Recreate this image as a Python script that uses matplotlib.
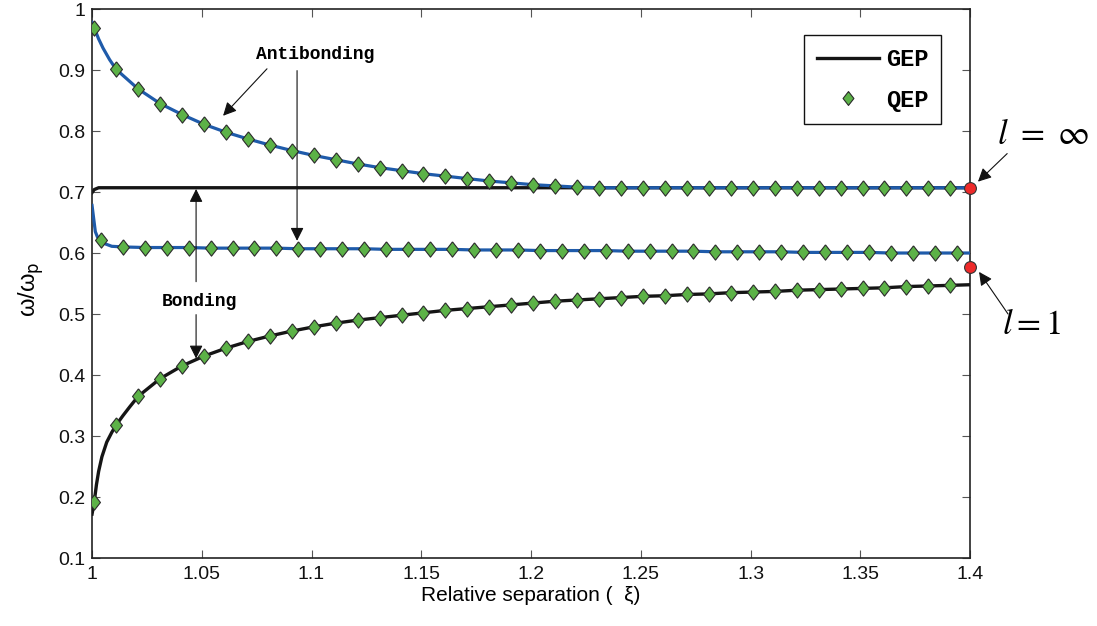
import numpy as np
import matplotlib
matplotlib.use("Agg")
import matplotlib.pyplot as plt
from matplotlib.lines import Line2D

plt.rcParams['font.family'] = ['Liberation Sans', 'DejaVu Sans']

# marker positions (QEP)
x_q = np.linspace(1.001, 1.391, 40)
x_q_mid = np.linspace(1.004, 1.394, 40)

anti_top = [0.969, 0.901, 0.869, 0.845, 0.827, 0.811, 0.798, 0.787, 0.777, 0.768,
            0.760, 0.753, 0.746, 0.740, 0.735, 0.730, 0.726, 0.722, 0.718, 0.715,
            0.712, 0.710, 0.708, 0.707, 0.707, 0.707, 0.707, 0.707, 0.707, 0.707,
            0.707, 0.707, 0.707, 0.707, 0.707, 0.707, 0.707, 0.707, 0.707, 0.707]
anti_mid = [0.621, 0.610, 0.609, 0.609, 0.609, 0.608, 0.608, 0.608, 0.608, 0.607,
            0.607, 0.607, 0.607, 0.606, 0.606, 0.606, 0.606, 0.605, 0.605, 0.605,
            0.604, 0.604, 0.604, 0.604, 0.603, 0.603, 0.603, 0.603, 0.602, 0.602,
            0.602, 0.602, 0.601, 0.601, 0.601, 0.601, 0.600, 0.600, 0.600, 0.600]
bond_low = [0.192, 0.318, 0.365, 0.394, 0.415, 0.431, 0.444, 0.455, 0.464, 0.472,
            0.479, 0.485, 0.490, 0.494, 0.498, 0.502, 0.506, 0.509, 0.512, 0.515,
            0.518, 0.521, 0.523, 0.525, 0.527, 0.529, 0.530, 0.532, 0.533, 0.535,
            0.536, 0.537, 0.539, 0.540, 0.541, 0.542, 0.543, 0.545, 0.546, 0.547]

# extra points of the GEP lines near xi = 1 and at the end
top_head_x = [1.0, 1.001, 1.003, 1.005, 1.008]
top_head_y = [0.978, 0.969, 0.951, 0.936, 0.917]
mid_head_x = [1.0, 1.0008, 1.0015, 1.0025, 1.004, 1.006, 1.009]
mid_head_y = [0.678, 0.655, 0.635, 0.626, 0.621, 0.615, 0.611]
low_head_x = [1.0, 1.001, 1.002, 1.003, 1.0045, 1.0067, 1.009, 1.011, 1.014, 1.017]
low_head_y = [0.172, 0.192, 0.220, 0.242, 0.266, 0.290, 0.306, 0.318, 0.333, 0.347]
flat_x, flat_y = [1.0, 1.001, 1.003, 1.4], [0.699, 0.704, 0.707, 0.707]
end_x = 1.4
end_top, end_mid, end_low = 0.707, 0.600, 0.548

# limits l = inf and l = 1
lim_x = [1.4, 1.4]
lim_y = [0.707, 0.577]

blue = '#1f5baa'
green = '#5cb247'

fig = plt.figure(figsize=(10.97, 6.26), dpi=100)
ax = fig.add_axes([0.0839, 0.1086, 0.8004, 0.877])

ax.plot(flat_x, flat_y, color='#151515', lw=2.4, zorder=2)

top_lx = top_head_x + list(x_q[1:]) + [end_x]
top_ly = top_head_y + anti_top[1:] + [end_top]
ax.plot(top_lx, top_ly, color=blue, lw=2.3, zorder=3)

mid_lx = mid_head_x + list(x_q_mid[1:]) + [end_x]
mid_ly = mid_head_y + anti_mid[1:] + [end_mid]
ax.plot(mid_lx, mid_ly, color=blue, lw=2.3, zorder=3)

low_lx = low_head_x + list(x_q[2:]) + [end_x]
low_ly = low_head_y + bond_low[2:] + [end_low]
ax.plot(low_lx, low_ly, color='#151515', lw=2.4, zorder=3)

diamond = [(0, 1), (0.78, 0), (0, -1), (-0.78, 0), (0, 1)]
mk = dict(linestyle='none', marker=diamond, markersize=11, markerfacecolor=green,
          markeredgecolor='#2b2b2b', markeredgewidth=0.8, zorder=4)
ax.plot(x_q, anti_top, **mk)
ax.plot(x_q_mid, anti_mid, **mk)
ax.plot(x_q, bond_low, **mk)

ax.plot(lim_x, lim_y, linestyle='none', marker='o', markersize=8.5,
        markerfacecolor='#ee2a2a', markeredgecolor='#333333', markeredgewidth=0.8,
        clip_on=False, zorder=6)

ax.set_xlim(1, 1.4)
ax.set_ylim(0.1, 1.0)
xt = [1, 1.05, 1.1, 1.15, 1.2, 1.25, 1.3, 1.35, 1.4]
yt = [0.1, 0.2, 0.3, 0.4, 0.5, 0.6, 0.7, 0.8, 0.9, 1.0]
ax.set_xticks(xt)
ax.set_xticklabels(['1', '1.05', '1.1', '1.15', '1.2', '1.25', '1.3', '1.35', '1.4'])
ax.set_yticks(yt)
ax.set_yticklabels(['0.1', '0.2', '0.3', '0.4', '0.5', '0.6', '0.7', '0.8', '0.9', '1'])
ax.tick_params(direction='in', top=True, right=True, length=6, width=0.8,
               color='#555555', labelsize=14, labelcolor='#111111')
ax.tick_params(axis='x', pad=6)
ax.tick_params(axis='y', pad=5)
for s in ax.spines.values():
    s.set_linewidth(1.2)
    s.set_color('#222222')

ax.set_xlabel('Relative separation (  ξ)', fontsize=15, labelpad=2)
ax.set_ylabel(r'ω/ω$_{\rm p}$', fontsize=17)
ax.yaxis.set_label_coords(-0.052, 0.49)

handles = [Line2D([], [], color='#151515', lw=2.4),
           Line2D([], [], linestyle='none', marker=diamond, markersize=10,
                  markerfacecolor=green, markeredgecolor='#2b2b2b', markeredgewidth=0.8)]
leg = ax.legend(handles, ['GEP', 'QEP'], loc='upper right', bbox_to_anchor=(0.967, 0.953),
                prop=dict(family='Liberation Mono', weight='bold', size=17),
                frameon=True, fancybox=False, framealpha=1, edgecolor='#111111',
                handlelength=2.6, handletextpad=0.3, labelspacing=0.75,
                borderpad=0.55, borderaxespad=0)
leg.get_frame().set_linewidth(1.0)

arw = dict(arrowstyle='-|>', color='#111111', lw=0.8, mutation_scale=20,
           shrinkA=0, shrinkB=0)
txt = dict(family='Liberation Mono', weight='bold', fontsize=13)

ax.text(1.1016, 0.925, 'Antibonding', ha='center', va='center', **txt)
ax.annotate('', xy=(1.0597, 0.825), xytext=(1.0797, 0.902), arrowprops=arw)
ax.annotate('', xy=(1.0934, 0.620), xytext=(1.0934, 0.899), arrowprops=arw)

ax.text(1.0487, 0.520, 'Bonding', ha='center', va='center', **txt)
ax.annotate('', xy=(1.0474, 0.705), xytext=(1.0474, 0.553), arrowprops=arw)
ax.annotate('', xy=(1.0474, 0.427), xytext=(1.0474, 0.499), arrowprops=arw)

ax.text(1.4333, 0.794, r'$l\ =\ \infty$', ha='center', va='center', fontsize=25,
        math_fontfamily='stix', clip_on=False)
ax.annotate('', xy=(1.4036, 0.717), xytext=(1.4169, 0.763), arrowprops=arw,
            annotation_clip=False)
ax.text(1.4278, 0.482, r'$l{=}\mathit{1}$', ha='center', va='center', fontsize=25,
        math_fontfamily='stix', clip_on=False)
ax.annotate('', xy=(1.4041, 0.569), xytext=(1.4173, 0.500), arrowprops=arw,
            annotation_clip=False)

fig.savefig('out.png', dpi=100, facecolor='white')
